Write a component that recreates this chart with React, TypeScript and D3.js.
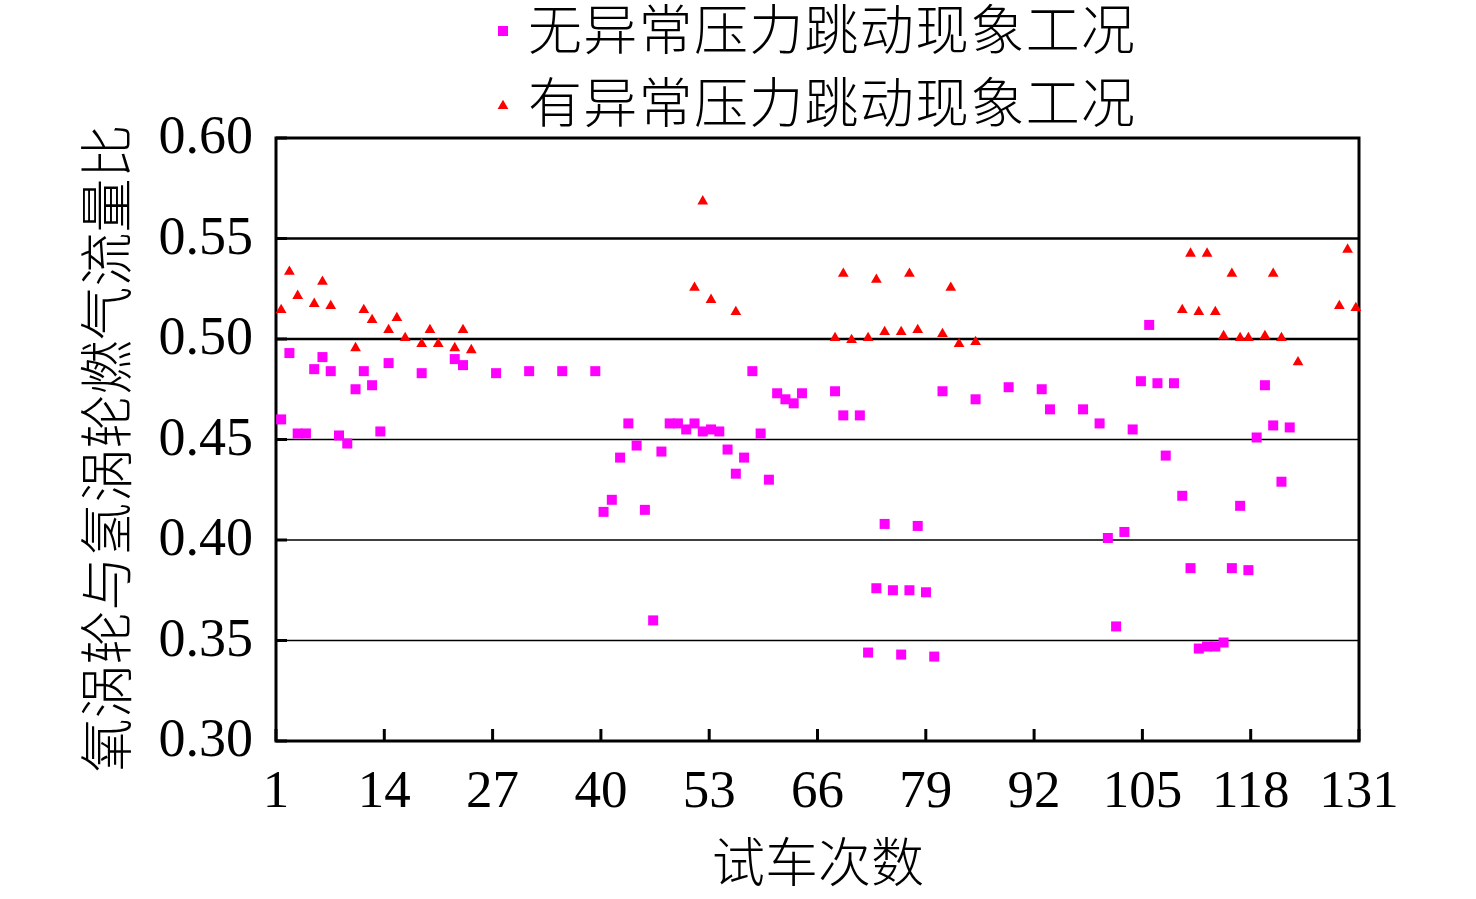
import React, { useEffect, useRef } from 'react';
import * as d3 from 'd3';

// 试车次数 (run number) -> flow ratio
const normalRuns = [
  1, 2, 3, 4, 5, 6, 7, 8, 9, 10, 11, 12, 13, 14, 18, 22, 23, 27, 31, 35,
  39, 40, 41, 42, 43, 44, 45, 46, 47, 48, 49, 50, 51, 52, 53, 54, 55, 56, 57, 58,
  59, 60, 61, 62, 63, 64, 68, 69, 71, 72, 73, 74, 75, 76, 77, 78, 79, 80, 81, 85,
  89, 93, 94, 98, 100, 101, 102, 103, 104, 105, 106, 107, 108, 109, 110, 111, 112, 113, 114, 115,
  116, 117, 118, 119, 120, 121, 122, 123
];
const normalValues = [
  0.460, 0.493, 0.453, 0.453, 0.485, 0.491, 0.484, 0.452, 0.448, 0.475, 0.484, 0.477, 0.454, 0.488, 0.483, 0.490, 0.487, 0.483, 0.484, 0.484,
  0.484, 0.414, 0.420, 0.441, 0.458, 0.447, 0.415, 0.360, 0.444, 0.458, 0.458, 0.455, 0.458, 0.454, 0.455, 0.454, 0.445, 0.433, 0.441, 0.484,
  0.453, 0.430, 0.473, 0.470, 0.468, 0.473, 0.474, 0.462, 0.462, 0.344, 0.376, 0.408, 0.375, 0.343, 0.375, 0.407, 0.374, 0.342, 0.474, 0.470,
  0.476, 0.475, 0.465, 0.465, 0.458, 0.401, 0.357, 0.404, 0.455, 0.479, 0.507, 0.478, 0.442, 0.478, 0.422, 0.386, 0.346, 0.347, 0.347, 0.349,
  0.386, 0.417, 0.385, 0.451, 0.477, 0.457, 0.429, 0.456
];

const jumpRuns = [
  1, 2, 3, 5, 6, 7, 10, 11, 12, 14, 15, 16, 18, 19, 20, 22, 23, 24,
  51, 52, 53, 56, 68, 69, 70, 72, 73, 74, 76, 77, 78, 81, 82, 83, 85,
  110, 111, 112, 113, 114, 115, 116, 117, 118, 120, 121, 122, 124, 129, 130, 131
];
const jumpValues = [
  0.515, 0.534, 0.522, 0.518, 0.529, 0.517, 0.496, 0.515, 0.510, 0.505, 0.511, 0.501, 0.498, 0.505, 0.498, 0.496, 0.505, 0.495,
  0.526, 0.569, 0.520, 0.514, 0.501, 0.533, 0.500, 0.501, 0.530, 0.504, 0.504, 0.533, 0.505, 0.503, 0.526, 0.498, 0.499,
  0.515, 0.543, 0.514, 0.543, 0.514, 0.502, 0.533, 0.501, 0.501, 0.502, 0.533, 0.501, 0.489, 0.517, 0.545, 0.516
];

const xTicks = [1, 14, 27, 40, 53, 66, 79, 92, 105, 118, 131];
const yTicks = [0.30, 0.35, 0.40, 0.45, 0.50, 0.55, 0.60];

const legendLabels = ['无异常压力跳动现象工况', '有异常压力跳动现象工况'];
const yTitle = '氧涡轮与氢涡轮燃气流量比';
const xTitle = '试车次数';

const WIDTH = 1476;
const HEIGHT = 899;
const NUM_FONT = '"Liberation Serif", "Times New Roman", serif';
const CJK_FONT = '"Noto Sans CJK SC", "Noto Sans", sans-serif';

export default function App() {
  const svgRef = useRef<SVGSVGElement>(null);

  useEffect(() => {
    if (!svgRef.current) return;
    const plot = { left: 276, right: 1359, top: 138, bottom: 741 };

    d3.select(svgRef.current).selectAll('*').remove();
    const svg = d3.select(svgRef.current)
      .attr('width', WIDTH)
      .attr('height', HEIGHT);

    // Scales: runs sit in the middle of 131 equal slots, ticks on a linear axis
    const xBand = d3.scaleBand<number>()
      .domain(d3.range(1, 132))
      .range([plot.left + 1, plot.right + 1])
      .padding(0);
    const xAxisScale = d3.scaleLinear()
      .domain([1, 131])
      .range([plot.left, plot.right]);
    const yScale = d3.scaleLinear()
      .domain([0.30, 0.60])
      .range([plot.bottom, plot.top]);
    const cx = (run: number) => (xBand(run) as number) + xBand.bandwidth() / 2;

    svg.append('rect')
      .attr('width', WIDTH)
      .attr('height', HEIGHT)
      .attr('fill', '#ffffff');

    // Grid lines
    svg.append('g')
      .selectAll('line')
      .data(yTicks.filter(t => t > 0.30 && t < 0.60))
      .enter()
      .append('line')
      .attr('x1', plot.left)
      .attr('x2', plot.right)
      .attr('y1', d => yScale(d))
      .attr('y2', d => yScale(d))
      .attr('stroke', '#000')
      .attr('stroke-width', d => (d >= 0.5 ? 2.5 : 1.6));

    // Frame
    svg.append('rect')
      .attr('x', plot.left)
      .attr('y', plot.top)
      .attr('width', plot.right - plot.left)
      .attr('height', plot.bottom - plot.top)
      .attr('fill', 'none')
      .attr('stroke', '#000')
      .attr('stroke-width', 3);

    // Inward tick marks
    svg.append('g')
      .selectAll('line')
      .data(yTicks)
      .enter()
      .append('line')
      .attr('x1', plot.left)
      .attr('x2', plot.left + 11)
      .attr('y1', d => yScale(d))
      .attr('y2', d => yScale(d))
      .attr('stroke', '#000')
      .attr('stroke-width', 3);

    svg.append('g')
      .selectAll('line')
      .data(xTicks)
      .enter()
      .append('line')
      .attr('x1', d => xAxisScale(d))
      .attr('x2', d => xAxisScale(d))
      .attr('y1', plot.bottom)
      .attr('y2', plot.bottom - 12)
      .attr('stroke', '#000')
      .attr('stroke-width', 3);

    // Tick labels
    svg.append('g')
      .selectAll('text')
      .data(yTicks)
      .enter()
      .append('text')
      .attr('x', plot.left - 23)
      .attr('y', d => yScale(d) + 15)
      .attr('text-anchor', 'end')
      .attr('font-family', NUM_FONT)
      .attr('font-size', 54)
      .attr('fill', '#000')
      .text(d => d.toFixed(2));

    svg.append('g')
      .selectAll('text')
      .data(xTicks)
      .enter()
      .append('text')
      .attr('x', d => xAxisScale(d))
      .attr('y', 807)
      .attr('text-anchor', 'middle')
      .attr('font-family', NUM_FONT)
      .attr('font-size', 53)
      .attr('fill', '#000')
      .text(d => String(d));

    // Axis titles
    svg.append('text')
      .attr('transform', `translate(103,${(plot.top + plot.bottom) / 2 + 9}) rotate(-90)`)
      .attr('text-anchor', 'middle')
      .attr('dominant-baseline', 'central')
      .attr('font-family', CJK_FONT)
      .attr('font-weight', 300)
      .attr('font-size', 54)
      .attr('fill', '#000')
      .text(yTitle);

    svg.append('text')
      .attr('x', 818)
      .attr('y', 882)
      .attr('text-anchor', 'middle')
      .attr('font-family', CJK_FONT)
      .attr('font-weight', 300)
      .attr('font-size', 53)
      .attr('fill', '#000')
      .text(xTitle);

    // Data points
    const triangle = d3.symbol().type(d3.symbolTriangle).size(50);

    svg.append('g')
      .selectAll('rect')
      .data(normalRuns.map((r, i) => ({ run: r, value: normalValues[i] })))
      .enter()
      .append('rect')
      .attr('x', d => cx(d.run) - 5)
      .attr('y', d => yScale(d.value) - 5)
      .attr('width', 10)
      .attr('height', 10)
      .attr('fill', '#ff00ff');

    svg.append('g')
      .selectAll('path')
      .data(jumpRuns.map((r, i) => ({ run: r, value: jumpValues[i] })))
      .enter()
      .append('path')
      .attr('d', triangle as any)
      .attr('transform', d => `translate(${cx(d.run)},${yScale(d.value) + 1})`)
      .attr('fill', '#ff0000');

    // Legend
    const legend = svg.append('g');
    legendLabels.forEach((label, i) => {
      const rowY = 31 + i * 73;
      if (i === 0) {
        legend.append('rect')
          .attr('x', 498)
          .attr('y', rowY - 5)
          .attr('width', 10)
          .attr('height', 10)
          .attr('fill', '#ff00ff');
      } else {
        legend.append('path')
          .attr('d', triangle as any)
          .attr('transform', `translate(503,${rowY + 2})`)
          .attr('fill', '#ff0000');
      }
      legend.append('text')
        .attr('x', 528)
        .attr('y', rowY + 19)
        .attr('font-family', CJK_FONT)
        .attr('font-weight', 300)
        .attr('font-size', 54)
        .attr('letter-spacing', 1.3)
        .attr('fill', '#000')
        .text(label);
    });
  }, []);

  return (
    <div style={{ position: 'absolute', left: 0, top: 0 }}>
      <svg ref={svgRef} style={{ display: 'block' }} />
    </div>
  );
}
